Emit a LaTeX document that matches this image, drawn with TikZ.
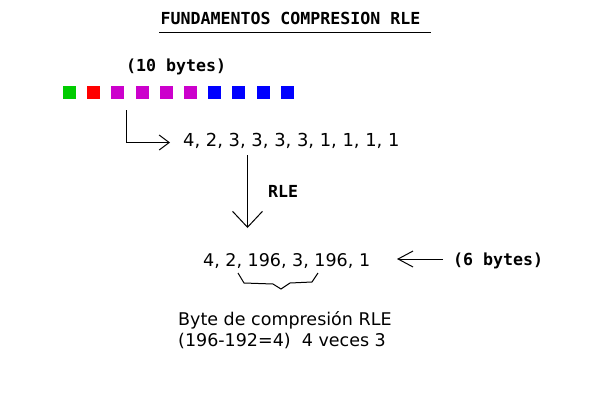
\documentclass[tikz,border=0pt]{standalone}
\usepackage{fontspec}
\setmainfont{DejaVu Sans}
\newfontfamily\monob{DejaVu Sans Mono}
\usetikzlibrary{arrows.meta}
\definecolor{sqgreen}{RGB}{0,204,0}
\definecolor{sqred}{RGB}{255,0,0}
\definecolor{sqmag}{RGB}{204,0,204}
\definecolor{sqblue}{RGB}{0,0,255}
\tikzset{
  sq/.style={minimum size=13pt, inner sep=0pt, draw=none, fill=#1},
  sanstxt/.style={font=\fontsize{17.5}{20}\selectfont, inner sep=0pt, anchor=base west},
  monotxt/.style={font=\monob\bfseries\fontsize{16.6}{20}\selectfont, inner sep=0pt, anchor=base west},
  conn/.style={line width=1pt, black},
}
\begin{document}
\begin{tikzpicture}[x=1pt,y=-1pt]
\useasboundingbox (0,0) rectangle (600,400);
% title
\node[monotxt, anchor=base] (title) at (290.5,24) {FUNDAMENTOS COMPRESION RLE};
\coordinate (ul1) at (159,32.5);
\coordinate (ul2) at (430.5,32.5);
\draw[conn] (ul1) -- (ul2);
% 10 bytes
\node[monotxt] (tenb) at (126,71.5) {(10 bytes)};
% squares
\foreach \i/\c in {1/sqgreen,2/sqred,3/sqmag,4/sqmag,5/sqmag,6/sqmag,7/sqblue,8/sqblue,9/sqblue,10/sqblue}{
  \node[sq=\c] (sq\i) at ({69.5+24.2*(\i-1)},92.5) {};
}
% sequence
\node[sanstxt, font=\fontsize{17.9}{20}\selectfont] (seq) at (183,146) {4, 2, 3, 3, 3, 3, 1, 1, 1, 1};
\coordinate (lstart) at (126.5,110);
\coordinate (ltip) at (170,142.5);
\draw[conn, -{Straight Barb[length=10pt,width=15pt]}] (lstart) |- (ltip);
% vertical RLE arrow
\coordinate (vstart) at (247.5,155);
\coordinate (vtip) at (247.5,228);
\draw[conn, -{Straight Barb[length=16pt,width=30pt]}] (vstart) -- (vtip);
\node[monotxt] (rle) at (268,197) {RLE};
% compressed
\node[sanstxt] (comp) at (203,266) {4, 2, 196, 3, 196, 1};
\coordinate (lastart) at (443,259);
\coordinate (latip) at (397,259);
\draw[conn, -{Straight Barb[length=15pt,width=16pt]}] (lastart) -- (latip);
\node[monotxt] (sixb) at (453,265) {(6 bytes)};
% brace
\coordinate (b1) at (238,273);
\coordinate (b2) at (244,283);
\coordinate (b3) at (273,284);
\coordinate (b4) at (281,289);
\coordinate (b5) at (290,283);
\coordinate (b6) at (312,282);
\coordinate (b7) at (318,273);
\draw[conn] (b1) -- (b2) -- (b3) -- (b4) -- (b5) -- (b6) -- (b7);
% explanation
\node[sanstxt] (expl1) at (178,325) {Byte de compresión RLE};
\node[sanstxt] (expl2) at (178,346) {(196-192=4)\ \ 4 veces 3};
\end{tikzpicture}
\end{document}
